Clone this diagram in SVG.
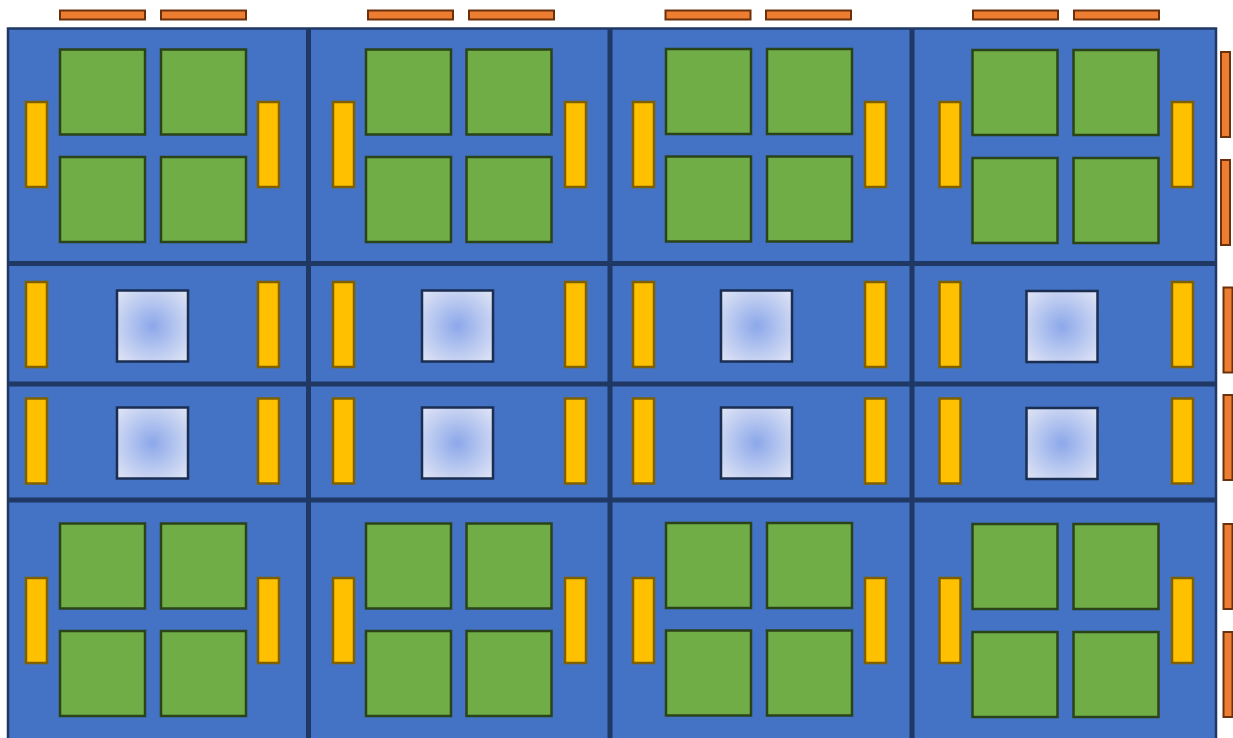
<svg xmlns="http://www.w3.org/2000/svg" width="1233" height="738" viewBox="0 0 1233 738">
<style>
.cell{fill:#4472C4;stroke:none}
.div{stroke:#1F3864;stroke-width:5;fill:none}
.g{fill:#70AD47;stroke:#2A4318;stroke-width:2.5}
.y{fill:#FFC000;stroke:#7F6000;stroke-width:2.5}
.o{fill:#ED7D31;stroke:#6B300C;stroke-width:2}
.s{fill:url(#rg);stroke:#1A2E52;stroke-width:2.5}
</style>
<defs>
<radialGradient id="rg" cx="50%" cy="50%" r="70%">
<stop offset="0" stop-color="#8CA8EA"/>
<stop offset="1" stop-color="#E2E6F5"/>
</radialGradient>
</defs>
<rect width="1233" height="738" fill="#FFFFFF"/>
<g id="top-bars">
<rect class="o" x="60" y="10.5" width="85" height="9"/>
<rect class="o" x="161" y="10.5" width="85" height="9"/>
<rect class="o" x="368" y="10.5" width="85" height="9"/>
<rect class="o" x="469" y="10.5" width="85" height="9"/>
<rect class="o" x="665.5" y="10.5" width="85" height="9"/>
<rect class="o" x="766" y="10.5" width="85" height="9"/>
<rect class="o" x="973" y="10.5" width="85" height="9"/>
<rect class="o" x="1074" y="10.5" width="85" height="9"/>
</g>
<g id="right-bars">
<rect class="o" x="1221" y="52" width="9" height="85"/>
<rect class="o" x="1221" y="160" width="9" height="85"/>
<rect class="o" x="1223.5" y="287.5" width="9" height="85"/>
<rect class="o" x="1223.5" y="395" width="9" height="85"/>
<rect class="o" x="1223.5" y="524" width="9" height="85"/>
<rect class="o" x="1223.5" y="632" width="9" height="85"/>
</g>
<g id="r1c1">
<rect class="cell" x="8" y="28.5" width="301" height="236"/>
<rect class="y" x="26" y="102" width="21" height="85"/>
<rect class="g" x="60" y="49.5" width="85" height="85"/>
<rect class="g" x="161" y="49.5" width="85" height="85"/>
<rect class="g" x="60" y="157" width="85" height="85"/>
<rect class="g" x="161" y="157" width="85" height="85"/>
<rect class="y" x="258" y="102" width="21" height="85"/>
</g>
<g id="r1c2">
<rect class="cell" x="308" y="28.5" width="303" height="236"/>
<rect class="y" x="333" y="102" width="21" height="85"/>
<rect class="g" x="366" y="49.5" width="85" height="85"/>
<rect class="g" x="466.5" y="49.5" width="85" height="85"/>
<rect class="g" x="366" y="157" width="85" height="85"/>
<rect class="g" x="466.5" y="157" width="85" height="85"/>
<rect class="y" x="565" y="102" width="21" height="85"/>
</g>
<g id="r1c3">
<rect class="cell" x="609" y="28.5" width="304" height="236"/>
<rect class="y" x="633" y="102" width="21" height="85"/>
<rect class="g" x="666" y="49" width="85" height="85"/>
<rect class="g" x="767" y="49" width="85" height="85"/>
<rect class="g" x="666" y="156.5" width="85" height="85"/>
<rect class="g" x="767" y="156.5" width="85" height="85"/>
<rect class="y" x="865" y="102" width="21" height="85"/>
</g>
<g id="r1c4">
<rect class="cell" x="911" y="28.5" width="305" height="236"/>
<rect class="y" x="939.5" y="102" width="21" height="85"/>
<rect class="g" x="972.5" y="50" width="85" height="85"/>
<rect class="g" x="1073.5" y="50" width="85" height="85"/>
<rect class="g" x="972.5" y="158" width="85" height="85"/>
<rect class="g" x="1073.5" y="158" width="85" height="85"/>
<rect class="y" x="1172" y="102" width="21" height="85"/>
</g>
<g id="r2c1">
<rect class="cell" x="8" y="263" width="301" height="122"/>
<rect class="y" x="26" y="282" width="21" height="85"/>
<rect class="s" x="117" y="290.5" width="71" height="71"/>
<rect class="y" x="258" y="282" width="21" height="85"/>
</g>
<g id="r2c2">
<rect class="cell" x="308" y="263" width="303" height="122"/>
<rect class="y" x="333" y="282" width="21" height="85"/>
<rect class="s" x="422" y="290.5" width="71" height="71"/>
<rect class="y" x="565" y="282" width="21" height="85"/>
</g>
<g id="r2c3">
<rect class="cell" x="609" y="263" width="304" height="122"/>
<rect class="y" x="633" y="282" width="21" height="85"/>
<rect class="s" x="721" y="290.5" width="71" height="71"/>
<rect class="y" x="865" y="282" width="21" height="85"/>
</g>
<g id="r2c4">
<rect class="cell" x="911" y="263" width="305" height="122"/>
<rect class="y" x="939.5" y="282" width="21" height="85"/>
<rect class="s" x="1026.5" y="291" width="71" height="71"/>
<rect class="y" x="1172" y="282" width="21" height="85"/>
</g>
<g id="r3c1">
<rect class="cell" x="8" y="383" width="301" height="118"/>
<rect class="y" x="26" y="398.5" width="21" height="85"/>
<rect class="s" x="117" y="407.5" width="71" height="71"/>
<rect class="y" x="258" y="398.5" width="21" height="85"/>
</g>
<g id="r3c2">
<rect class="cell" x="308" y="383" width="303" height="118"/>
<rect class="y" x="333" y="398.5" width="21" height="85"/>
<rect class="s" x="422" y="407.5" width="71" height="71"/>
<rect class="y" x="565" y="398.5" width="21" height="85"/>
</g>
<g id="r3c3">
<rect class="cell" x="609" y="383" width="304" height="118"/>
<rect class="y" x="633" y="398.5" width="21" height="85"/>
<rect class="s" x="721" y="407.5" width="71" height="71"/>
<rect class="y" x="865" y="398.5" width="21" height="85"/>
</g>
<g id="r3c4">
<rect class="cell" x="911" y="383" width="305" height="118"/>
<rect class="y" x="939.5" y="398.5" width="21" height="85"/>
<rect class="s" x="1026.5" y="408" width="71" height="71"/>
<rect class="y" x="1172" y="398.5" width="21" height="85"/>
</g>
<g id="r4c1">
<rect class="cell" x="8" y="499" width="301" height="250"/>
<rect class="y" x="26" y="578" width="21" height="85"/>
<rect class="g" x="60" y="523.5" width="85" height="85"/>
<rect class="g" x="161" y="523.5" width="85" height="85"/>
<rect class="g" x="60" y="631" width="85" height="85"/>
<rect class="g" x="161" y="631" width="85" height="85"/>
<rect class="y" x="258" y="578" width="21" height="85"/>
</g>
<g id="r4c2">
<rect class="cell" x="308" y="499" width="303" height="250"/>
<rect class="y" x="333" y="578" width="21" height="85"/>
<rect class="g" x="366" y="523.5" width="85" height="85"/>
<rect class="g" x="466.5" y="523.5" width="85" height="85"/>
<rect class="g" x="366" y="631" width="85" height="85"/>
<rect class="g" x="466.5" y="631" width="85" height="85"/>
<rect class="y" x="565" y="578" width="21" height="85"/>
</g>
<g id="r4c3">
<rect class="cell" x="609" y="499" width="304" height="250"/>
<rect class="y" x="633" y="578" width="21" height="85"/>
<rect class="g" x="666" y="523" width="85" height="85"/>
<rect class="g" x="767" y="523" width="85" height="85"/>
<rect class="g" x="666" y="630.5" width="85" height="85"/>
<rect class="g" x="767" y="630.5" width="85" height="85"/>
<rect class="y" x="865" y="578" width="21" height="85"/>
</g>
<g id="r4c4">
<rect class="cell" x="911" y="499" width="305" height="250"/>
<rect class="y" x="939.5" y="578" width="21" height="85"/>
<rect class="g" x="972.5" y="524" width="85" height="85"/>
<rect class="g" x="1073.5" y="524" width="85" height="85"/>
<rect class="g" x="972.5" y="632" width="85" height="85"/>
<rect class="g" x="1073.5" y="632" width="85" height="85"/>
<rect class="y" x="1172" y="578" width="21" height="85"/>
</g>
<g id="grid">
<rect x="8" y="28.5" width="1208" height="730" fill="none" stroke="#1F3864" stroke-width="2.5"/>
<line class="div" x1="308.5" y1="28" x2="308.5" y2="738"/>
<line class="div" x1="610" y1="28" x2="610" y2="738"/>
<line class="div" x1="912" y1="28" x2="912" y2="738"/>
<line class="div" x1="8" y1="263.5" x2="1216" y2="263.5"/>
<line class="div" x1="8" y1="384" x2="1216" y2="384"/>
<line class="div" x1="8" y1="500" x2="1216" y2="500"/>
</g>
<g id="connectors"></g>
</svg>
